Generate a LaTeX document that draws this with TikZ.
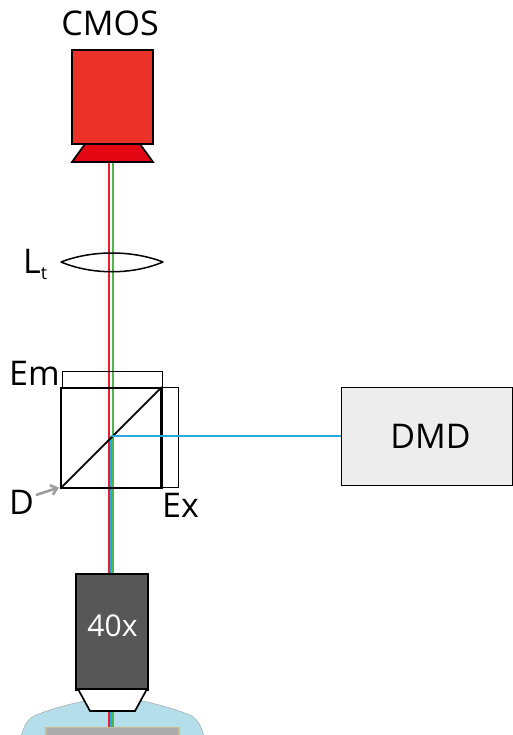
\documentclass[tikz,border=0pt]{standalone}
\usepackage{fontspec}
\usetikzlibrary{arrows.meta}
\setmainfont{Open Sans}
\definecolor{camred}{HTML}{EA3228}
\definecolor{lensred}{HTML}{E30613}
\definecolor{beamred}{RGB}{232,32,42}
\definecolor{beamgreen}{HTML}{4DB848}
\definecolor{beamblue}{HTML}{29A9E0}
\definecolor{objgray}{HTML}{575757}
\definecolor{dmdgray}{HTML}{EDEDED}
\definecolor{dome}{HTML}{B5DEEB}
\definecolor{slidefill}{HTML}{ABABAB}
\definecolor{slideedge}{HTML}{C9B994}
\tikzset{
  lbl/.style={font=\fontsize{34}{34}\selectfont,inner sep=0pt,text=black},
  beam/.style={line width=2pt},
  thin outline/.style={draw=black,line width=1.6pt,inner sep=0pt,anchor=north west},
}
\begin{document}
\begin{tikzpicture}[x=1pt,y=-1pt]
\useasboundingbox (0,0) rectangle (512,735);
\begin{scope}
\clip (0,0) rectangle (512,735);
% sample
\path[fill=dome,draw=gray!70,line width=.5pt] (21,736) .. controls (24,726) and (27,720) .. (34,716)
  .. controls (50,709) and (66,705) .. (84,701) -- (143,701)
  .. controls (160,705) and (176,709) .. (192,716)
  .. controls (198,720) and (201,726) .. (204,736) -- cycle;
\path[fill=slidefill,draw=slideedge,line width=1.6pt] (46,727.5) rectangle (179,745);
\end{scope}
% coordinates for rays
\coordinate (rt) at (109,162);
\coordinate (gt) at (113,162);
\coordinate (rb) at (109,727);
\coordinate (gb) at (113,727);
\coordinate (bm) at (111,436);
\coordinate (bb) at (111,727);
% rays
\draw[beam,beamgreen] (gt) -- (gb);
\draw[beam,beamblue] (bm) -- (bb);
\draw[beam,beamred] (rt) -- (rb);
% camera
\node[thin outline,fill=camred,minimum width=81pt,minimum height=94pt] (cam) at (71.2,49.5) {};
\draw[fill=lensred,line width=1.7pt,line join=miter] (85,144) -- (140,144) -- (153,162) -- (72,162) -- cycle;
\node[lbl,anchor=base] (cmos) at (110,36) {CMOS};
% tube lens
\draw[line width=1.5pt,line join=round] (61,262) .. controls (92,250) and (132,250) .. (163,262)
  .. controls (132,275) and (92,275) .. (61,262) -- cycle;
\node[lbl,anchor=base west] (lt) at (23,273) {L\raisebox{-6pt}{\fontsize{18}{18}\selectfont t}};
% filter cube
\node[draw=black,line width=1.4pt,inner sep=0pt,anchor=north west,minimum width=100pt,minimum height=16pt] (em) at (61.5,371) {};
\node[draw=black,line width=1.4pt,inner sep=0pt,anchor=north west,minimum width=17pt,minimum height=100pt] (ex) at (160.5,387) {};
\node[thin outline,minimum width=100pt,minimum height=100pt] (cube) at (60.3,387) {};
\draw[line width=2.2pt] (cube.north east) -- (cube.south east);
\draw[line width=1.7pt] (cube.south west) -- (cube.north east);
\node[lbl,anchor=base west] (emlbl) at (9,385) {Em};
\node[lbl,anchor=base west] (exlbl) at (162,517) {Ex};
\node[lbl,anchor=base west] (dlbl) at (9,514) {D};
\coordinate (dtail) at (36,495);
\coordinate (dhead) at (59,487.5);
\draw[draw=black!38,line width=2.6pt,-{Straight Barb[length=6pt,width=10pt,line width=2.6pt]}] (dtail) -- (dhead);
% DMD
\node[draw=black,line width=1.2pt,fill=dmdgray,inner sep=0pt,minimum width=171pt,minimum height=98pt,anchor=north west] (dmd) at (341,387) {};
\node[font=\fontsize{34}{34}\selectfont,inner sep=0pt] (dmdlbl) at (430.5,436) {DMD};
\draw[beam,beamblue] (bm) -- (dmd.west |- bm);
% objective
\node[thin outline,fill=objgray,minimum width=72pt,minimum height=116pt] (obj) at (75.3,573) {};
\node[font=\fontsize{30}{30}\selectfont,text=white,inner sep=0pt] (objlbl) at (112.5,626) {40x};
\draw[fill=white,line width=1.7pt] (78,689) -- (147,689) -- (135,711) -- (90,711) -- cycle;
\end{tikzpicture}
\end{document}
